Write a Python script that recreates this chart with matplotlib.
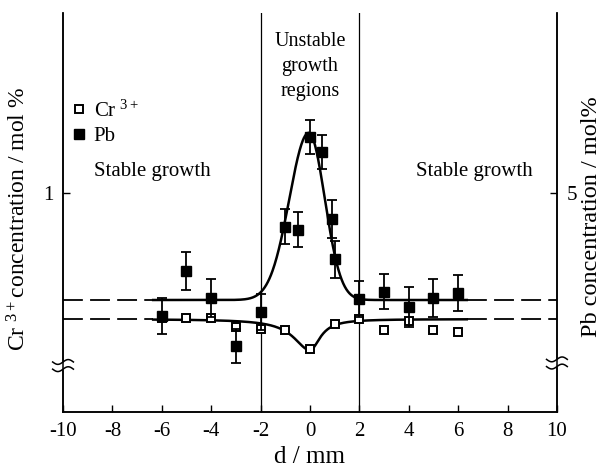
import numpy as np
import matplotlib
matplotlib.use("Agg")
from matplotlib import pyplot as plt

plt.rcParams['font.family'] = ['Liberation Serif', 'DejaVu Serif']
plt.rcParams['mathtext.default'] = 'regular'

# Pb data (right axis, mol%)
pb_x = [-6, -5, -4, -3, -2, -1, -0.5, 0, 0.5, 0.9, 1.0, 2, 3, 4, 5, 6]
pb_y = [3.03, 3.75, 3.32, 2.55, 3.10, 4.46, 4.41, 5.89, 5.65, 4.58, 3.94, 3.31, 3.42, 3.18, 3.32, 3.40]
pb_err = [0.29, 0.30, 0.30, 0.27, 0.29, 0.28, 0.28, 0.27, 0.27, 0.30, 0.30, 0.29, 0.28, 0.32, 0.30, 0.29]

# Cr3+ data (left axis, mol %)
cr_x = [-6, -5, -4, -3, -2, -1, 0, 1, 2, 3, 4, 5, 6]
cr_y = [0.60, 0.60, 0.60, 0.572, 0.565, 0.562, 0.501, 0.581, 0.597, 0.562, 0.591, 0.562, 0.556]

# fit parameters
pb_base, pb_amp, pb_x0, pb_sl, pb_sr = 3.29, 2.67, -0.05, 0.785, 0.65
cr_base, cr_depth, cr_gl, cr_gr = 0.597, 0.099, 0.8, 0.5
fit_lim = 6.35

def pb_fit(x):
    s = np.where(x < pb_x0, pb_sl, pb_sr)
    return pb_base + pb_amp * np.exp(-(x - pb_x0) ** 2 / (2 * s ** 2))

def cr_fit(x):
    g = np.where(x < 0, cr_gl, cr_gr)
    return cr_base - cr_depth / (1 + (x / g) ** 2)

fig = plt.figure(figsize=(6.06, 4.72), dpi=100)
ax = fig.add_axes([0.104, 0.127, 0.815, 0.8455])
ax2 = ax.twinx()

ax.set_xlim(-10, 10)
ax.set_ylim(0.3, 1.575)
ax2.set_ylim(1.5, 7.875)

# region boundaries
for xv in (-2, 2):
    ax.axvline(xv, color='black', lw=0.9)

xf = np.linspace(-fit_lim, fit_lim, 600)
ax.plot(xf, cr_fit(xf), color='black', lw=1.8)
ax2.plot(xf, pb_fit(xf), color='black', lw=1.8)
for xs in ([-10, -fit_lim], [fit_lim, 10]):
    ax.plot(xs, [cr_base, cr_base], color='black', lw=1.3, dashes=(11, 4))
    ax2.plot(xs, [pb_base, pb_base], color='black', lw=1.3, dashes=(11, 4))

cr_h, = ax.plot(cr_x, cr_y, 's', ms=6, mfc='white', mec='black', mew=1.4,
                ls='none', zorder=5, label='Cr$^{\\ 3+}$')
ax2.errorbar(pb_x, pb_y, yerr=pb_err, fmt='none', ecolor='black', elinewidth=1.3,
             capsize=3.6, capthick=1.3, zorder=4)
pb_h, = ax2.plot(pb_x, pb_y, 's', ms=6.5, mfc='black', mec='black',
                 ls='none', zorder=6, label='Pb')

ax.legend(handles=[cr_h, pb_h], loc='upper left', bbox_to_anchor=(-0.012, 0.818),
          frameon=False, fontsize=15, handlelength=0.7, handletextpad=0.35,
          labelspacing=0.25, borderaxespad=0.3)

# ticks
ax.set_xticks(range(-10, 11, 2))
ax.set_xticklabels([str(v) for v in range(-10, 11, 2)])
ax.set_yticks([1])
ax.set_yticklabels(['1'])
ax2.set_yticks([5])
ax2.set_yticklabels(['5'])
for a in (ax, ax2):
    a.tick_params(direction='in', length=5, width=1, labelsize=15, pad=7)
    for sp in a.spines.values():
        sp.set_linewidth(1.1)
ax.spines['top'].set_visible(False)
ax2.spines['top'].set_visible(False)

ax.set_xlabel('d / mm', fontsize=18, labelpad=4)
ax.set_ylabel('Cr$^{\\ 3+}$concentration / mol %', fontsize=17)
ax.yaxis.set_label_coords(-0.066, 0.485)
ax2.set_ylabel('Pb concentration / mol%', fontsize=17.5)
ax2.yaxis.set_label_coords(1.049, 0.49)

# annotations
ax.text(-6.4, 1.07, 'Stable growth', fontsize=15, ha='center', va='center')
ax.text(6.64, 1.07, 'Stable growth', fontsize=15, ha='center', va='center')
ax.text(0, 1.404, 'Unstable\ngrowth\nregions', fontsize=14.5, ha='center',
        va='center', linespacing=1.4)

# axis break marks
t = np.linspace(-1, 1, 40)
for xa, ya in ((0.0, 0.1165), (1.0, 0.123)):
    ax.add_patch(plt.Rectangle((xa - 0.006, ya - 0.008), 0.012, 0.016,
                               transform=ax.transAxes, color='white',
                               clip_on=False, zorder=10))
    for dy in (-0.009, 0.009):
        ax.plot(xa + 0.021 * t, ya + dy + 0.006 * np.sin(np.pi * t),
                transform=ax.transAxes, color='black', lw=1.1,
                clip_on=False, zorder=11)

fig.savefig('out.png', dpi=100)
